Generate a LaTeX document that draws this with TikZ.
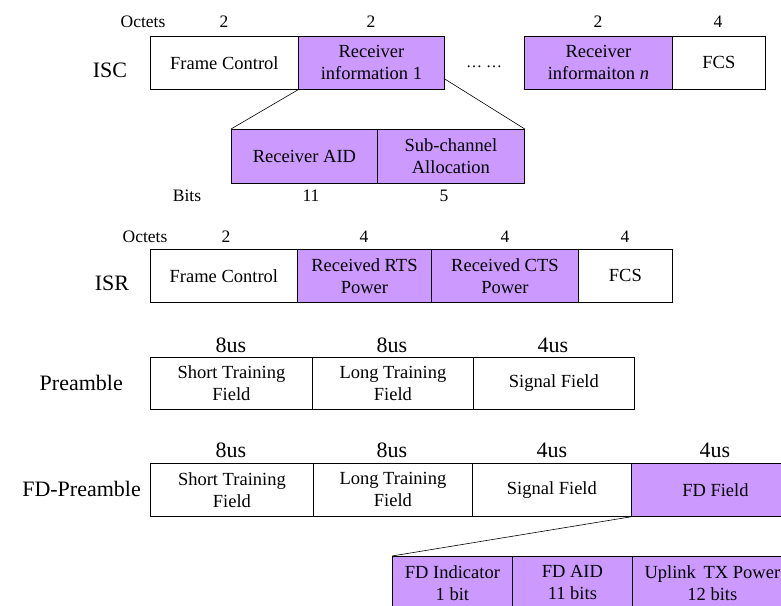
\documentclass[tikz,border=0pt]{standalone}
\usepackage{fontspec}
\setmainfont{Liberation Serif}
\usetikzlibrary{calc}
\definecolor{lav}{HTML}{CC99FF}
\tikzset{
  field/.style={draw=black, line width=0.8pt, rectangle, anchor=north west,
    inner sep=0pt, align=center, minimum height=53pt,
    font=\fontsize{18.5}{22}\selectfont},
  hifield/.style={field, fill=lav},
  sizelbl/.style={inner sep=0pt, font=\fontsize{17.5}{20}\selectfont},
  timelbl/.style={inner sep=0pt, font=\fontsize{22}{26}\selectfont},
  rowlbl/.style={inner sep=0pt, font=\fontsize{22}{26}\selectfont},
  zoomline/.style={draw=black, line width=0.6pt},
}
\begin{document}
\begin{tikzpicture}[x=1pt, y=-1pt]
\useasboundingbox (0,0) rectangle (781,605);
\clip (0,0) rectangle (781,605);

% ---------------- ISC frame ----------------
\node[rowlbl] (isc) at (110,70) {ISC};
\node[field,   minimum width=148pt] (iscfc)  at (150,36) {Frame Control};
\node[hifield, minimum width=146pt] (iscr1)  at (298,36) {Receiver\\information 1};
\node[inner sep=0pt, font=\fontsize{16}{18}\selectfont] (iscdots) at (484,67) {… …};
\node[hifield, minimum width=148pt] (iscrn)  at (524,36) {Receiver\\informaiton \textit{n}};
\node[field,   minimum width=93pt]  (iscfcs) at (672,36) {FCS};

\node[sizelbl] (iscoct) at (143,22) {Octets};
\node[sizelbl] (iscs1) at (224,22) {2};
\node[sizelbl] (iscs2) at (371,22) {2};
\node[sizelbl] (iscs3) at (598,22) {2};
\node[sizelbl] (iscs4) at (718,22) {4};

% receiver information sub-fields
\node[hifield, minimum width=146pt, minimum height=54pt] (subaid) at (231,129) {Receiver AID};
\node[hifield, minimum width=147pt, minimum height=54pt] (subch)  at (377,129) {Sub-channel\\Allocation};
\node[sizelbl] (subbits) at (187,196) {Bits};
\node[sizelbl] (subb1) at (311,196) {11};
\node[sizelbl] (subb2) at (444,196) {5};

\coordinate (r1out) at ($(iscr1.north east)!0.8!(iscr1.south east)$);
\draw[zoomline] (iscr1.south west) -- (subaid.north west);
\draw[zoomline] (r1out) -- (subch.north east);

% ---------------- ISR frame ----------------
\node[rowlbl] (isr) at (112,283) {ISR};
\node[field,   minimum width=147pt] (isrfc)  at (150,249) {Frame Control};
\node[hifield, minimum width=134pt] (isrrts) at (297,249) {Received RTS\\Power};
\node[hifield, minimum width=147pt] (isrcts) at (431,249) {Received CTS\\Power};
\node[field,   minimum width=94pt]  (isrfcs) at (578,249) {FCS};

\node[sizelbl] (isroct) at (145,237) {Octets};
\node[sizelbl] (isrs1) at (226,237) {2};
\node[sizelbl] (isrs2) at (364,237) {4};
\node[sizelbl] (isrs3) at (505,237) {4};
\node[sizelbl] (isrs4) at (625,237) {4};

% ---------------- Preamble ----------------
\node[rowlbl, anchor=east] (pre) at (123,383) {Preamble};
\node[field, minimum width=162pt, minimum height=52pt] (prstf) at (150,357) {Short Training\\Field};
\node[field, minimum width=161pt, minimum height=52pt] (prltf) at (312,357) {Long Training\\Field};
\node[field, minimum width=161pt, minimum height=52pt] (prsig) at (473,357) {Signal Field};

\node[timelbl] (prt1) at (231,345) {8us};
\node[timelbl] (prt2) at (392,345) {8us};
\node[timelbl] (prt3) at (553,345) {4us};

% ---------------- FD-Preamble ----------------
\node[rowlbl, anchor=east] (fdpre) at (141,489) {FD-Preamble};
\node[field,   minimum width=163pt] (fdstf)   at (150,463) {Short Training\\Field};
\node[field,   minimum width=159pt] (fdltf)   at (313,463) {Long Training\\Field};
\node[field,   minimum width=159pt] (fdsig)   at (472,463) {Signal Field};
\node[hifield, minimum width=168pt] (fdfield) at (631,463) {FD Field};

\node[timelbl] (fdt1) at (231,450) {8us};
\node[timelbl] (fdt2) at (392,450) {8us};
\node[timelbl] (fdt3) at (552,450) {4us};
\node[timelbl] (fdt4) at (715,450) {4us};

% FD field sub-fields
\node[hifield, minimum width=120pt] (fdind) at (392,556) {FD Indicator\\1 bit};
\node[hifield, minimum width=120pt] (fdaid) at (512,556) {FD AID\\11 bits};
\node[hifield, minimum width=160pt] (fdpow) at (632,556) {Uplink\ \,TX Power\\12 bits};

\draw[zoomline] (fdfield.south west) -- (fdind.north west);
\end{tikzpicture}
\end{document}
